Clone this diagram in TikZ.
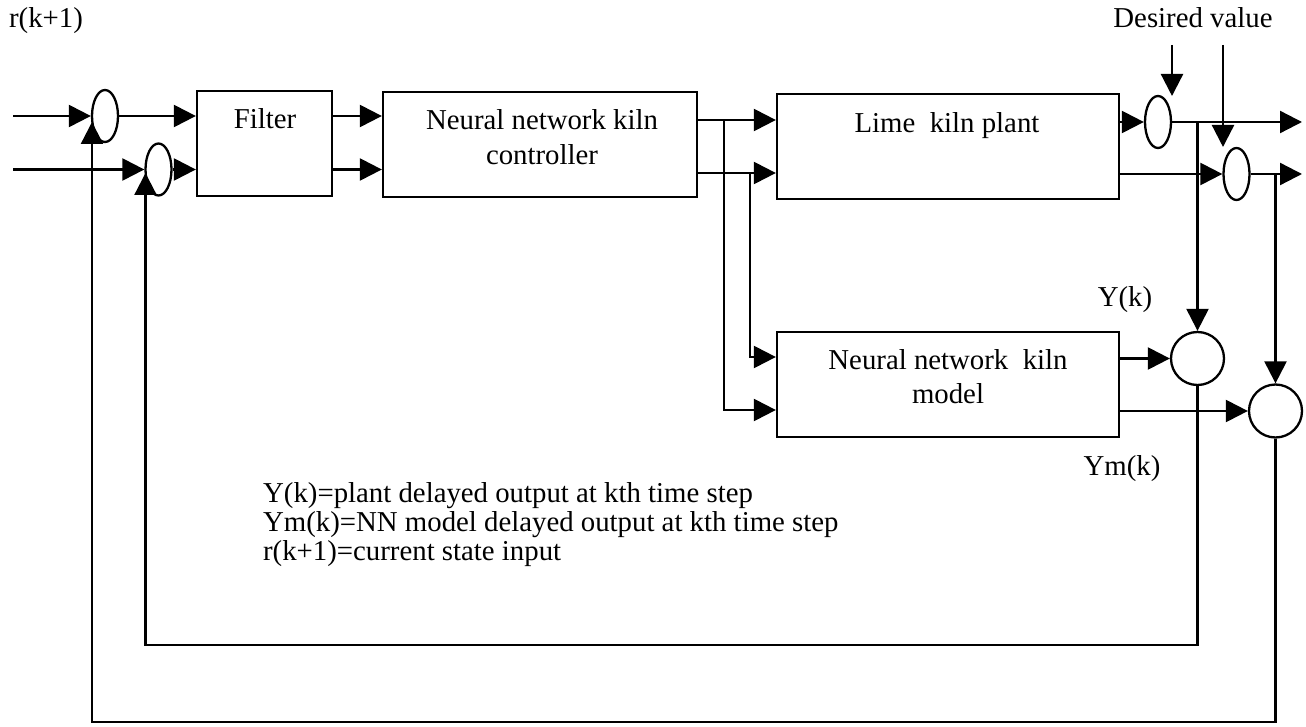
\documentclass[tikz,border=0pt]{standalone}
\usepackage{fontspec}
\setmainfont{Liberation Serif}
\usetikzlibrary{arrows.meta,shapes.geometric}
\begin{document}
\begin{tikzpicture}[x=1pt,y=-1pt,
  line width=2.3pt,
  tip/.style={-{Triangle[length=22pt,width=22pt]}},
  block/.style={draw, rectangle, inner sep=0pt},
  sumell/.style={draw, ellipse, inner sep=0pt, minimum width=26pt, minimum height=52pt},
  sumcirc/.style={draw, circle, inner sep=0pt, minimum size=53pt},
  txt/.style={inner sep=0pt, font=\fontsize{28.8}{34}\selectfont, anchor=base},
]
\useasboundingbox (0,0) rectangle (1306,727);

% blocks
\node[block, minimum width=135pt, minimum height=105pt] (filter) at (264.5,143.5) {};
\node[block, minimum width=314pt, minimum height=105pt] (ctrl) at (540,144.5) {};
\node[block, minimum width=342pt, minimum height=105pt] (plant) at (948,146.5) {};
\node[block, minimum width=342pt, minimum height=105pt] (model) at (948,384.5) {};

% summing junctions
\node[sumell] (e1) at (105,116) {};
\node[sumell] (e2) at (158.5,169.5) {};
\node[sumell] (e3) at (1158,122) {};
\node[sumell] (e4) at (1236.5,174) {};
\node[sumcirc] (c1) at (1197.5,358.5) {};
\node[sumcirc] (c2) at (1275.5,411) {};

% free ends and branch points
\coordinate (in1) at (13,116);
\coordinate (in2) at (13,169.5);
\coordinate (j1) at (724,120);
\coordinate (j2) at (750,173);
\coordinate (j3) at (1197.5,122);
\coordinate (j4) at (1275.5,174);
\coordinate (out1) at (1302,122);
\coordinate (out2) at (1302,174);
\coordinate (d1) at (1172,45);
\coordinate (d1t) at (1172,96);
\coordinate (d2) at (1223,45);
\coordinate (d2t) at (1223,147);
\coordinate (fb1) at (92,122);
\coordinate (fb2) at (145.5,173);

% forward path
\draw[tip] (in1) -- (e1.west);
\draw[tip] (in2) -- (e2.west);
\draw[tip] (e1.east) -- (e1.east -| filter.west);
\draw[tip] (e2.east) -- (e2.east -| filter.west);
\draw[tip] (filter.east |- e1) -- (ctrl.west |- e1);
\draw[tip] (filter.east |- e2) -- (ctrl.west |- e2);
\draw[tip] (ctrl.east |- j1) -- (plant.west |- j1);
\draw[tip] (ctrl.east |- j2) -- (plant.west |- j2);
\draw[tip] (j1) |- (model.west |- 0,410);
\draw[tip] (j2) |- (model.west |- 0,357);

% plant outputs and set points
\draw[tip] (plant.east |- e3) -- (e3.west);
\draw[tip] (e3.east) -- (out1);
\draw[tip] (plant.east |- e4) -- (e4.west);
\draw[tip] (e4.east) -- (out2);
\draw[tip] (d1) -- (d1t);
\draw[tip] (d2) -- (d2t);

% comparison with the model
\draw[tip] (j3) -- (c1.north);
\draw[tip] (j4) -- (c2.north);
\draw[tip] (model.east |- c1) -- (c1.west);
\draw[tip] (model.east |- c2) -- (c2.west);

% feedback loops
\draw[tip] (c1.south) -- (c1.south |- 0,645) -| (fb2);
\draw[tip] (c2.south) -- (c2.south |- 0,722) -| (fb1);

% labels
\node[txt, anchor=base west] (rlab) at (8,28) {r(k+1)};
\node[txt] (dlab) at (1193,28) {Desired value};
\node[txt] (flab) at (265,129) {Filter};
\node[txt] (clab1) at (542,130) {Neural network kiln};
\node[txt] (clab2) at (542,165) {controller};
\node[txt] (plab) at (947,133) {Lime\ \ kiln plant};
\node[txt] (mlab1) at (948,369) {Neural network\ \ kiln};
\node[txt] (mlab2) at (948,403) {model};
\node[txt] (ylab) at (1125,306) {Y(k)};
\node[txt] (ymlab) at (1122,475) {Ym(k)};
\node[txt, anchor=base west] (leg1) at (262,502) {Y(k)=plant delayed output at kth time step};
\node[txt, anchor=base west] (leg2) at (262,531) {Ym(k)=NN model delayed output at kth time step};
\node[txt, anchor=base west] (leg3) at (262,560) {r(k+1)=current state input};
\end{tikzpicture}
\end{document}
